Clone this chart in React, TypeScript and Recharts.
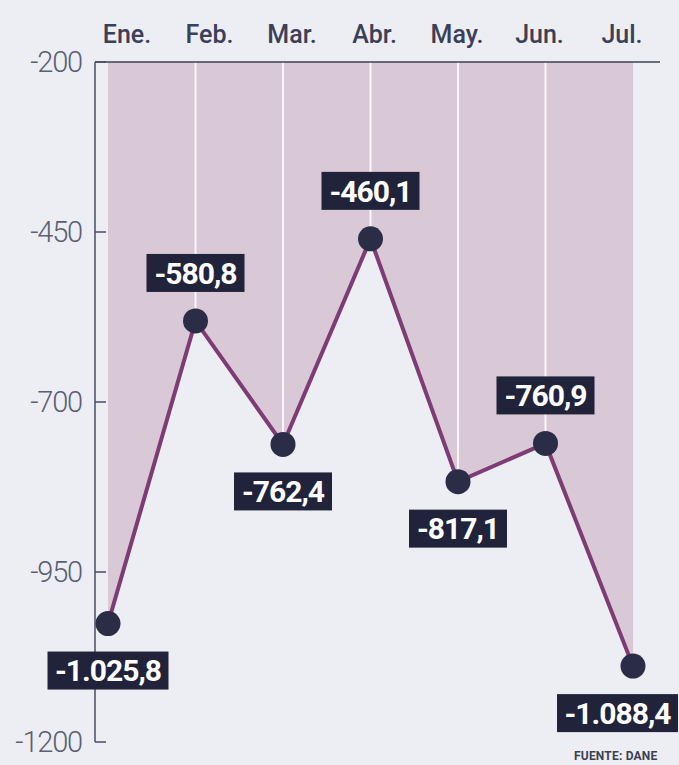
import {
  ComposedChart,
  Area,
  Line,
  XAxis,
  YAxis,
  ReferenceLine,
  LabelList,
} from "recharts";

const MONTHS = ["Ene.", "Feb.", "Mar.", "Abr.", "May.", "Jun.", "Jul."];
const BALANCE = [-1025.8, -580.8, -762.4, -460.1, -817.1, -760.9, -1088.4];
const Y_TICKS = [-1200, -950, -700, -450, -200];
const Y_TOP = -200;

const CHART_W = 679;
const CHART_H = 765;
const FONT = "Roboto, 'Noto Sans', sans-serif";

const data = MONTHS.map((month, i) => ({ month, value: BALANCE[i] }));

// -1025.8 -> "-1.025,8"
const fmt = (v: number) => {
  const [int, dec] = Math.abs(v).toFixed(1).split(".");
  const grouped = int.replace(/\B(?=(\d{3})+(?!\d))/g, ".");
  return (v < 0 ? "-" : "") + grouped + "," + dec;
};

const charW = (c: string) => (/\d/.test(c) ? 16 : c === "-" ? 9 : 7);

// label goes above the point when it is a local peak, below otherwise
const isPeak = (i: number) => {
  const v = BALANCE[i];
  const prev = BALANCE[i - 1];
  const next = BALANCE[i + 1];
  return (prev === undefined || v > prev) && (next === undefined || v > next);
};

function ValueLabel(props: any) {
  const { x, y, index } = props;
  const text = fmt(BALANCE[index]);
  const w = text.split("").reduce((s, c) => s + charW(c), 0) + 18;
  const h = 38;
  let cx = x;
  if (cx + w / 2 > CHART_W - 1) cx = CHART_W - 1 - w / 2;
  if (cx - w / 2 < 1) cx = 1 + w / 2;
  const top = isPeak(index) ? y - 29 - h : y + 28;
  return (
    <g>
      <rect x={cx - w / 2} y={top} width={w} height={h} fill="#21233b" />
      <text
        x={cx}
        y={top + h / 2}
        dy="0.36em"
        textAnchor="middle"
        fill="#ffffff"
        fontSize={30}
        fontWeight={700}
        letterSpacing={-1}
        fontFamily={FONT}
      >
        {text}
      </text>
    </g>
  );
}

function YTick({ x, y, payload }: any) {
  return (
    <g>
      <line x1={x + 13} x2={x + 24} y1={y} y2={y} stroke="#4a4d63" strokeWidth={1.5} />
      <text
        x={x}
        y={y}
        dy="0.36em"
        textAnchor="end"
        fill="#5b5f72"
        fontSize={29}
        fontWeight={300}
        letterSpacing={-1.2}
        fontFamily={FONT}
      >
        {payload.value}
      </text>
    </g>
  );
}

export default function App() {
  return (
    <div
      style={{
        position: "absolute",
        left: 0,
        top: 0,
        width: CHART_W,
        height: CHART_H,
        background: "#eceef3",
        fontFamily: FONT,
        overflow: "hidden",
      }}
    >
      <ComposedChart
        width={CHART_W}
        height={CHART_H}
        data={data}
        margin={{ top: 22, right: 19, left: 0, bottom: 23 }}
      >
        <XAxis
          xAxisId="pts"
          dataKey="month"
          hide
          padding={{ left: 13, right: 27 }}
        />
        <XAxis
          xAxisId="lab"
          dataKey="month"
          orientation="top"
          height={40}
          padding={{ left: 32, right: 38 }}
          axisLine={{ stroke: "#3d4055", strokeWidth: 1.5 }}
          tickLine={false}
          tickSize={0}
          tickMargin={19}
          interval={0}
          tick={{ fontSize: 25, fontWeight: 500, fill: "#3b3f58", fontFamily: FONT }}
        />
        <YAxis
          width={95}
          domain={[Y_TICKS[0], Y_TOP]}
          ticks={Y_TICKS}
          interval={0}
          axisLine={{ stroke: "#4a4d63", strokeWidth: 1.5 }}
          tickLine={false}
          tickSize={0}
          tickMargin={13}
          tick={<YTick />}
        />
        <Area
          xAxisId="pts"
          dataKey={(d: any) => [d.value, Y_TOP]}
          fill="#d9c8d5"
          fillOpacity={1}
          stroke="none"
          isAnimationActive={false}
        />
        {data.slice(1, -1).map((d) => (
          <ReferenceLine
            key={d.month}
            xAxisId="pts"
            segment={[
              { x: d.month, y: d.value },
              { x: d.month, y: Y_TOP },
            ]}
            stroke="#ffffff"
            strokeWidth={2}
            strokeOpacity={0.85}
          />
        ))}
        <Line
          xAxisId="pts"
          dataKey="value"
          stroke="#7e3b76"
          strokeWidth={4}
          dot={{ r: 12.5, fill: "#2b2d47", stroke: "none" }}
          activeDot={false}
          isAnimationActive={false}
        >
          <LabelList dataKey="value" content={(p: any) => <ValueLabel {...p} />} />
        </Line>
      </ComposedChart>
      <div
        style={{
          position: "absolute",
          left: 574,
          top: 749,
          fontSize: 12,
          fontWeight: 700,
          color: "#3d4055",
          whiteSpace: "nowrap",
          letterSpacing: 0.2,
        }}
      >
        FUENTE: DANE
      </div>
    </div>
  );
}
